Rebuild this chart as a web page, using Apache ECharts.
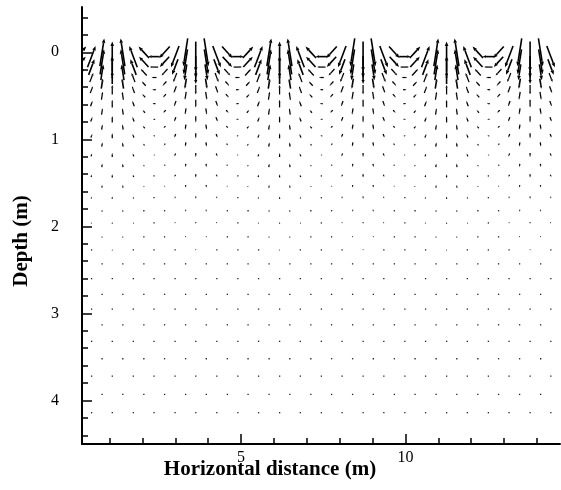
<!DOCTYPE html>
<html><head><meta charset="utf-8">
<script src="https://cdn.jsdelivr.net/npm/echarts@6/dist/echarts.min.js"></script>
<style>html,body{margin:0;padding:0;background:#fff}#c{width:561px;height:490px}</style>
</head><body><div id="c"></div>
<script>
// Grid columns (horizontal positions, m) – staggered half-columns
const colX = [0.13,0.45,0.77,1.08,1.40,1.72,2.04,2.35,2.67,2.99,3.31,3.62,3.94,4.26,4.58,4.90,
  5.21,5.53,5.85,6.17,6.48,6.80,7.12,7.44,7.75,8.07,8.39,8.71,9.02,9.34,9.66,9.98,
  10.29,10.61,10.93,11.25,11.56,11.88,12.20,12.52,12.83,13.15,13.47,13.79,14.11,14.42];
// Flow direction at each column (degrees, counter-clockwise from +x, up positive)
const colAngle = [22.5,45,67.5,90,112.5,135,157.5,180,202.5,225,247.5,270,292.5,315,337.5,0,
  22.5,45,67.5,90,112.5,135,157.5,180,202.5,225,247.5,270,292.5,315,337.5,0,
  22.5,45,67.5,90,112.5,135,157.5,180,202.5,225,247.5,270,292.5,315];
// Grid rows (depth, m)
const rowDepth = [0.00,0.05,0.11,0.17,0.23,0.29,0.36,0.43,0.50,0.59,0.68,0.77,0.86,0.96,1.06,1.18,
  1.30,1.42,1.54,1.67,1.82,1.96,2.12,2.27,2.43,2.60,2.78,2.95,3.13,3.32,3.52,3.72,3.93,4.14];
// Velocity magnitude on each row (m/s)
const rowSpeed = [0.30,0.30,0.27,0.22,0.17,0.13,0.110,0.095,0.085,0.075,0.068,0.062,0.056,0.050,0.045,0.040,
  0.035,0.031,0.027,0.024,0.021,0.018,0.016,0.014,0.012,0.010,0.009,0.008,0.007,0.006,0.005,0.0045,0.004,0.0035];
const vectorScale = 1.15; // arrow length in m per m/s
const xTickMajor = [5,10];
const xTickMinor = [1,2,3,4,5,6,7,8,9,10,11,12,13,14];
const yTickMajor = [0,1,2,3,4];
const yTickMinor = [-0.4,-0.2,0,0.2,0.4,0.6,0.8,1,1.2,1.4,1.6,1.8,2,2.2,2.4,2.6,2.8,3,3.2,3.4,3.6,3.8,4,4.2,4.4];

const data = [];
rowDepth.forEach((d, r) => {
  colX.forEach((x, k) => {
    if ((k + r) % 2 !== 0) return;
    const a = colAngle[k] * Math.PI / 180;
    const s = rowSpeed[r] * vectorScale;
    data.push([x, d, s * Math.cos(a), -s * Math.sin(a)]);
  });
});

const chart = echarts.init(document.getElementById('c'), null, {renderer: 'canvas'});
const font = 'Liberation Serif, Times New Roman, serif';
const axisCommon = {type: 'value', splitLine: {show: false}, axisPointer: {show: false}};
chart.setOption({
  animation: false,
  backgroundColor: '#fff',
  grid: {left: 82, top: 7, width: 478, height: 437},
  xAxis: [
    Object.assign({}, axisCommon, {min: 0.16, max: 14.7, position: 'bottom',
      axisLine: {show: true, onZero: false, lineStyle: {color: '#000', width: 2}},
      axisTick: {show: true, inside: true, length: 10, customValues: xTickMajor, lineStyle: {color: '#000', width: 1.5}},
      axisLabel: {show: true, customValues: xTickMajor, margin: 6, color: '#000', fontFamily: font, fontSize: 16}
    }),
    Object.assign({}, axisCommon, {min: 0.16, max: 14.7, position: 'bottom',
      axisLine: {show: false, onZero: false},
      axisTick: {show: true, inside: true, length: 6, customValues: xTickMinor, lineStyle: {color: '#000', width: 1.5}},
      axisLabel: {show: false}
    })
  ],
  yAxis: [
    Object.assign({}, axisCommon, {min: -0.52, max: 4.5, inverse: true, position: 'left',
      axisLine: {show: true, onZero: false, lineStyle: {color: '#000', width: 2}},
      axisTick: {show: true, inside: true, length: 10, customValues: yTickMajor, lineStyle: {color: '#000', width: 1.5}},
      axisLabel: {show: true, customValues: yTickMajor, margin: 23, color: '#000', fontFamily: font, fontSize: 16, padding: [6, 0, 0, 0]}
    }),
    Object.assign({}, axisCommon, {min: -0.52, max: 4.5, inverse: true, position: 'left', offset: 0,
      axisLine: {show: false, onZero: false},
      axisTick: {show: true, inside: true, length: 6, customValues: yTickMinor, lineStyle: {color: '#000', width: 1.5}},
      axisLabel: {show: false}
    })
  ],
  graphic: [
    {type: 'text', x: 270, y: 470, style: {text: 'Horizontal distance (m)', font: 'bold 21px ' + font, fill: '#000', textAlign: 'center', textVerticalAlign: 'middle'}},
    {type: 'text', x: 22, y: 241, rotation: Math.PI / 2, style: {text: 'Depth (m)', font: 'bold 21px ' + font, fill: '#000', textAlign: 'center', textVerticalAlign: 'middle'}}
  ],
  series: [{
    type: 'custom',
    xAxisIndex: 0, yAxisIndex: 0,
    clip: true,
    encode: {x: 0, y: 1},
    data: data,
    renderItem: function (params, api) {
      const x = api.value(0), d = api.value(1), dx = api.value(2), dd = api.value(3);
      const p0 = api.coord([x - dx / 2, d - dd / 2]);
      const p1 = api.coord([x + dx / 2, d + dd / 2]);
      const vx = p1[0] - p0[0], vy = p1[1] - p0[1];
      const len = Math.hypot(vx, vy);
      if (len < 1.3) {
        const c = api.coord([x, d]);
        return {type: 'rect', shape: {x: c[0] - 0.6, y: c[1] - 0.6, width: 1.3, height: 1.3}, style: {fill: '#222'}};
      }
      const ux = vx / len, uy = vy / len;
      const hl = Math.min(4.5, Math.max(1.4, len * 0.3));
      const hw = hl * 0.4;
      const bx = p1[0] - ux * hl, by = p1[1] - uy * hl;
      const lw = len > 10 ? 1.6 : 1.25;
      return {type: 'group', children: [
        {type: 'line', shape: {x1: p0[0], y1: p0[1], x2: bx, y2: by}, style: {stroke: '#000', lineWidth: lw}},
        {type: 'polygon', shape: {points: [[p1[0], p1[1]], [bx - uy * hw, by + ux * hw], [bx + uy * hw, by - ux * hw]]}, style: {fill: '#000'}}
      ]};
    }
  }]
});
</script>
</body></html>
